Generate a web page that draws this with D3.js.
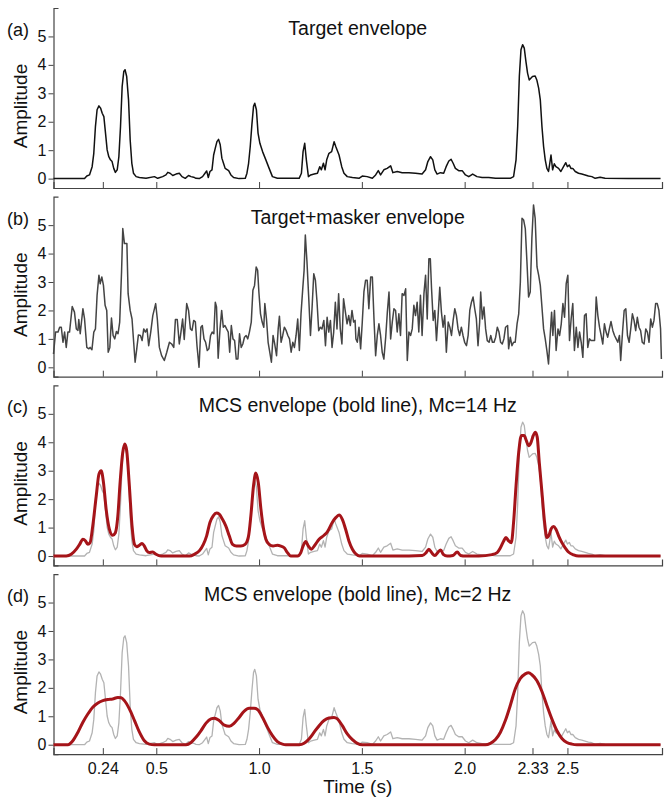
<!DOCTYPE html>
<html>
<head>
<meta charset="utf-8">
<script src="https://cdn.jsdelivr.net/npm/d3@7"></script>
<style>
  body { margin: 0; background: #fff; }
  text { font-family: "Liberation Sans", Arial, Helvetica, sans-serif; }
</style>
</head>
<body>
<script>
// ---- data (time in s, amplitude) ----

// (a) target envelope, also the grey trace in (c) and (d)
var targetTime = [0.000,0.151,0.162,0.175,0.188,0.196,0.204,0.212,0.221,0.229,0.237,0.245,0.253,0.261,0.269,0.277,0.285,0.293,0.301,0.310,0.318,0.326,0.334,0.342,0.348,0.356,0.365,0.373,0.381,0.389,0.402,0.418,0.450,0.491,0.507,0.531,0.547,0.556,0.567,0.580,0.596,0.612,0.625,0.641,0.657,0.669,0.682,0.693,0.709,0.725,0.737,0.745,0.753,0.761,0.771,0.779,0.787,0.795,0.803,0.811,0.819,0.827,0.835,0.852,0.863,0.876,0.903,0.933,0.941,0.949,0.957,0.965,0.973,0.979,0.987,0.995,1.004,1.017,1.033,1.049,1.065,1.089,1.146,1.195,1.206,1.214,1.222,1.230,1.240,1.251,1.268,1.284,1.295,1.303,1.313,1.321,1.329,
  1.340,1.353,1.365,1.373,1.389,1.402,1.413,1.429,1.454,1.486,1.502,1.526,1.551,1.567,1.580,1.591,1.607,1.623,1.640,1.651,1.672,1.696,1.729,1.761,1.793,1.810,1.821,1.834,1.845,1.855,1.866,1.882,1.898,1.910,1.923,1.934,1.944,1.955,1.971,1.988,2.004,2.020,2.039,2.060,2.085,2.117,2.150,2.182,2.222,2.238,2.250,2.258,2.266,2.274,2.282,2.290,2.298,2.306,2.314,2.322,2.330,2.343,2.351,2.360,2.368,2.376,2.384,2.392,2.400,2.408,2.413,2.420,2.428,2.436,2.444,2.457,2.468,2.481,2.492,2.500,2.509,2.517,2.526,2.538,2.554,2.570,2.586,2.602,2.619,2.635,2.659,2.683,2.796,2.953];
var targetAmp = [0,0,0.09,0.13,0.42,0.89,1.83,2.42,2.56,2.48,2.30,2.18,1.60,1.01,0.77,0.66,0.60,0.36,0.22,0.31,0.77,1.83,3.24,3.77,3.83,3.59,2.77,1.36,0.54,0.19,0.07,0.04,0.01,0.07,0.01,0.07,0.13,0.22,0.19,0.11,0.16,0.19,0.07,0.01,0.11,0.07,0.05,0.01,0,0.07,0.19,0.27,0.04,0.25,0.31,0.83,1.07,1.30,1.38,1.19,0.72,0.54,0.36,0.28,0.13,0.04,0,0.01,0.19,0.54,1.13,1.89,2.54,2.65,2.42,1.60,1.24,0.95,0.66,0.36,0.07,0.01,0.01,0.01,0.19,0.95,1.24,0.66,0.07,0.13,0.16,0.19,0.42,0.31,0.54,0.31,0.66,
  0.89,0.95,1.30,1.13,0.83,0.42,0.19,0.07,0.04,0.01,0.09,0.07,0.01,0.13,0.28,0.13,0.31,0.36,0.45,0.21,0.25,0.21,0.21,0.19,0.16,0.31,0.60,0.77,0.66,0.31,0.16,0.21,0.19,0.42,0.62,0.68,0.54,0.36,0.28,0.28,0.13,0.07,0.16,0.07,0.04,0.04,0.01,0.01,0.01,0.07,0.66,1.83,3.59,4.53,4.71,4.59,4.12,3.71,3.47,3.53,3.59,3.61,3.47,3.18,2.77,1.83,1.13,0.66,0.36,0.25,0.48,0.83,0.31,0.52,0.42,0.36,0.25,0.42,0.56,0.42,0.48,0.36,0.36,0.25,0.19,0.16,0.13,0.09,0.07,0.01,0.05,0.01,0,0];

// (b) target + masker envelope
var mixTime = [0.000,0.010,0.022,0.030,0.038,0.046,0.054,0.062,0.070,0.078,0.091,0.102,0.111,0.119,0.123,0.130,0.143,0.151,0.162,0.172,0.178,0.187,0.196,0.204,0.212,0.221,0.227,0.235,0.243,0.251,0.259,0.266,0.274,0.282,0.290,0.298,0.306,0.314,0.322,0.331,0.337,0.345,0.357,0.363,0.373,0.382,0.390,0.397,0.405,0.413,0.423,0.431,0.439,0.447,0.455,0.463,0.473,0.483,0.497,0.505,0.515,0.526,0.539,0.551,0.564,0.575,0.585,0.593,0.602,0.612,0.620,0.628,0.636,0.648,0.657,0.666,0.674,0.682,0.690,0.698,0.708,0.717,
  0.724,0.732,0.740,0.748,0.756,0.764,0.772,0.780,0.787,0.793,0.801,0.810,0.818,0.826,0.834,0.842,0.850,0.857,0.865,0.873,0.881,0.889,0.897,0.905,0.913,0.921,0.929,0.937,0.945,0.953,0.962,0.970,0.978,0.986,0.993,0.999,1.007,1.015,1.023,1.028,1.036,1.044,1.052,1.060,1.068,1.076,1.085,1.093,1.099,1.107,1.115,1.123,1.132,1.140,1.148,1.156,1.164,1.172,1.180,1.188,1.196,1.204,1.213,1.219,1.225,1.233,1.241,1.250,1.258,1.266,1.274,1.282,1.290,1.298,1.306,1.315,1.323,1.331,1.339,1.347,1.355,1.363,1.371,1.379,1.387,1.395,1.403,1.411,1.420,1.428,1.436,1.444,1.452,1.460,
  1.467,1.471,1.478,1.486,1.494,1.502,1.510,1.518,1.526,1.534,1.543,1.551,1.559,1.567,1.575,1.583,1.591,1.599,1.607,1.616,1.624,1.632,1.640,1.648,1.656,1.664,1.672,1.680,1.688,1.696,1.705,1.713,1.721,1.729,1.737,1.745,1.753,1.761,1.769,1.777,1.785,1.793,1.802,1.810,1.818,1.826,1.833,1.839,1.847,1.855,1.863,1.871,1.879,1.887,1.895,1.903,1.911,1.920,1.928,1.936,1.944,1.952,1.960,1.968,1.976,1.984,1.992,2.000,2.009,2.017,2.025,2.033,2.041,2.049,2.057,2.065,2.073,2.078,2.086,2.094,2.102,2.110,2.119,2.127,2.135,2.143,2.151,2.159,2.167,2.175,2.183,2.191,2.199,
  2.209,2.214,2.222,2.230,2.238,2.246,2.255,2.263,2.271,2.279,2.287,2.295,2.303,2.311,2.319,2.327,2.335,2.343,2.352,2.360,2.368,2.376,2.384,2.392,2.400,2.408,2.416,2.423,2.429,2.437,2.445,2.454,2.462,2.470,2.478,2.486,2.494,2.502,2.510,2.518,2.526,2.534,2.543,2.551,2.559,2.567,2.575,2.583,2.591,2.599,2.607,2.615,2.624,2.632,2.640,2.648,2.656,2.664,2.672,2.680,2.688,2.696,2.704,2.712,2.721,2.729,2.737,2.745,2.753,2.759,2.768,2.776,2.784,2.792,2.800,2.808,2.816,2.824,2.832,2.840,2.848,2.856,2.864,2.873,2.881,2.889,2.897,2.905,2.913,2.921,2.929,2.937,2.945,2.953,2.957];
var mixAmp = [0.47,1.24,1.24,1.41,1.41,0.88,1.24,0.70,1.24,1.24,2.14,1.94,1.35,1.30,1.68,1.18,2.06,1.70,0.70,0.65,0.70,0.62,1.24,1.35,2.53,3.24,2.94,3.18,2.88,2.18,2.00,0.53,0.70,1.73,1.12,1.00,1.26,1.18,1.59,3.35,4.88,4.35,4.35,2.59,2.00,1.70,0.88,0.18,0.65,1.14,1.12,0.94,1.35,1.24,1.35,0.76,1.24,1.82,2.24,1.70,0.70,0.41,0.24,0.53,0.88,0.82,0.70,1.68,1.68,0.82,1.24,1.70,0.98,2.24,2.00,1.35,1.30,1.65,1.60,0.76,0.00,1.41,
  1.47,1.00,0.88,0.59,0.65,1.12,1.24,1.18,2.29,2.12,0.32,1.35,2.00,1.41,1.47,1.35,1.24,0.53,1.47,1.00,0.94,0.29,0.29,1.18,0.70,0.82,1.06,1.12,1.00,1.24,1.59,2.71,2.88,3.53,3.41,2.65,1.88,1.59,1.41,2.24,1.70,0.88,0.53,0.18,1.12,0.82,0.41,1.35,1.80,0.88,1.12,1.41,1.29,1.12,1.00,0.53,0.88,0.70,1.12,1.70,0.59,1.88,2.82,3.41,4.65,3.71,2.53,1.12,2.12,3.29,3.06,2.29,1.29,1.41,1.35,1.65,0.76,1.76,1.24,1.65,0.70,1.24,2.29,1.35,2.59,1.35,0.82,2.41,1.94,1.53,1.82,1.47,2.00,1.59,
  1.65,1.00,0.88,1.41,0.65,1.59,2.65,3.06,3.06,2.06,3.18,3.18,1.70,0.41,1.12,1.53,1.12,0.53,0.29,1.06,1.94,2.65,1.00,1.59,2.06,2.00,1.24,1.88,1.12,2.59,2.53,2.76,0.24,1.24,1.12,1.35,2.18,1.82,2.29,1.24,2.53,1.12,2.59,3.24,1.70,3.82,3.82,2.76,1.65,2.00,0.94,1.82,2.82,1.94,1.41,1.82,0.53,1.59,1.41,1.12,1.65,2.06,1.82,1.35,1.12,1.41,1.12,0.88,0.76,1.12,2.00,2.29,2.47,2.06,1.70,0.76,1.59,2.65,1.70,2.12,1.35,0.94,0.88,1.12,0.88,0.88,1.06,1.41,1.24,0.88,0.82,1.00,1.41,
  1.47,0.65,1.06,0.76,0.88,0.88,1.53,1.88,3.00,5.24,5.18,4.88,3.71,2.47,2.65,4.53,5.71,5.24,3.53,3.24,2.88,2.12,1.35,1.00,0.59,0.12,1.12,1.94,1.12,2.00,0.59,1.35,1.12,1.53,2.24,1.76,2.94,3.24,0.94,1.70,2.24,0.59,1.41,0.70,1.24,0.88,0.35,1.82,1.88,0.70,1.00,0.94,0.94,0.94,2.47,1.82,1.41,1.12,0.82,1.53,1.24,1.06,1.35,1.61,1.29,1.12,1.00,0.88,1.12,0.24,1.24,2.00,2.06,1.12,0.88,1.35,1.88,1.65,1.29,1.76,1.41,1.29,0.88,0.82,1.35,1.24,0.88,1.70,1.41,1.65,2.24,2.24,2.00,1.35,0.29];

// (c) MCS envelope, Mc = 14 Hz
var mc14Time = [0,0.062,0.086,0.111,0.127,0.143,0.156,0.167,0.178,0.191,0.208,0.221,0.232,0.243,0.256,0.272,0.288,0.301,0.313,0.324,0.337,0.347,0.356,0.369,0.382,0.394,0.405,0.418,0.431,0.442,0.454,0.466,0.483,0.499,0.523,0.661,0.685,0.709,0.729,0.745,0.761,0.777,0.793,0.806,0.822,0.838,0.855,0.871,0.890,0.911,0.932,0.949,0.960,0.973,0.984,0.996,1.009,1.022,1.033,1.049,1.068,1.089,1.106,1.122,1.138,1.154,1.187,1.203,1.214,1.227,1.240,1.254,1.271,1.292,1.316,1.332,1.356,1.373,1.389,1.405,1.421,1.437,1.454,1.470,1.489,1.583,1.664,1.794,1.813,1.826,1.839,1.855,1.871,1.883,1.896,1.915,1.943,1.964,1.980,2.004,2.069,2.133,2.158,2.174,2.190,2.201,2.214,2.227,2.238,2.250,2.263,2.276,2.289,2.300,2.311,2.323,2.334,2.344,2.353,2.363,2.376,2.389,2.400,2.412,2.421,2.433,2.444,2.457,2.473,2.489,2.505,2.530,2.554,2.953];
var mc14Amp = [0,0,0.06,0.24,0.41,0.59,0.53,0.41,0.47,1.06,2.12,2.88,3.00,2.59,1.65,0.94,0.73,0.82,1.41,2.59,3.65,3.94,3.71,2.47,1.06,0.41,0.33,0.38,0.44,0.35,0.18,0.12,0.14,0.06,0,0,0.06,0.18,0.41,0.71,1.18,1.41,1.51,1.47,1.29,1.06,0.71,0.41,0.35,0.35,0.41,0.71,1.41,2.47,2.92,2.59,1.65,0.94,0.59,0.41,0.35,0.38,0.35,0.29,0.12,0,0,0.12,0.35,0.51,0.35,0.24,0.38,0.59,0.73,0.85,1.18,1.35,1.44,1.29,0.94,0.53,0.24,0.08,0,0,0,0.02,0.12,0.24,0.12,0.02,0.14,0.21,0.06,0,0.02,0.14,0.02,0,0,0.05,0.12,0.29,0.53,0.65,0.53,0.47,1.18,2.47,3.65,4.24,4.24,4.06,3.88,4.00,4.24,4.35,4.18,3.29,2.24,1.18,0.65,0.76,0.96,1.04,0.94,0.71,0.47,0.29,0.14,0.04,0,0];

// (d) MCS envelope, Mc = 2 Hz
var mc2Time = [0,0.070,0.094,0.119,0.143,0.167,0.191,0.216,0.240,0.264,0.288,0.313,0.329,0.345,0.369,0.394,0.418,0.442,0.466,0.491,0.645,0.669,0.693,0.717,0.742,0.766,0.782,0.806,0.831,0.855,0.879,0.903,0.928,0.952,0.976,0.992,1.017,1.041,1.065,1.089,1.114,1.130,1.195,1.219,1.243,1.268,1.292,1.316,1.340,1.364,1.381,1.405,1.429,1.454,1.478,1.502,2.101,2.125,2.150,2.174,2.198,2.222,2.246,2.270,2.295,2.311,2.327,2.351,2.376,2.400,2.424,2.449,2.473,2.497,2.522,2.546,2.953];
var mc2Amp = [0,0,0.14,0.44,0.79,1.08,1.32,1.47,1.55,1.59,1.61,1.66,1.65,1.55,1.26,0.85,0.44,0.14,0.02,0,0,0.08,0.26,0.49,0.76,0.91,0.93,0.85,0.69,0.65,0.76,0.96,1.18,1.28,1.28,1.24,0.96,0.61,0.32,0.11,0.02,0,0,0.05,0.20,0.44,0.67,0.85,0.94,0.96,0.91,0.67,0.38,0.18,0.05,0,0,0.05,0.18,0.44,0.85,1.38,1.96,2.32,2.49,2.53,2.46,2.26,1.87,1.38,0.91,0.49,0.22,0.08,0.02,0,0];

var timeTicks = [0.24, 0.5, 1.0, 1.5, 2.0, 2.33, 2.5];
var timeTickLabels = ["0.24", "0.5", "1.0", "1.5", "2.0", "2.33", "2.5"];
var ampTicks = [0, 1, 2, 3, 4, 5];
var ampTickLabels = ["0", "1", "2", "3", "4", "5"];

var panelLetters = ["(a)", "(b)", "(c)", "(d)"];
var panelTitles = ["Target envelope", "Target+masker envelope",
    "MCS envelope (bold line), Mc=14 Hz", "MCS envelope (bold line), Mc=2 Hz"];

// ---- layout ----
var w = 667, h = 798;
var left = 53.5, right = 662;
var panelH = 180;      // from top of y axis down to the time axis line
var panelStep = 188.7;
var firstTop = 8;

function zip(ts, vs) {
    var out = [];
    for (var i = 0; i < ts.length; i++) out.push({t: ts[i], v: vs[i]});
    return out;
}

var target = zip(targetTime, targetAmp);
var mix = zip(mixTime, mixAmp);
var mc14 = zip(mc14Time, mc14Amp);
var mc2 = zip(mc2Time, mc2Amp);

var svg = d3.select("body")
    .append("svg")
    .attr("width", w)
    .attr("height", h);

var xScale = d3.scaleLinear().domain([0, 2.96]).range([left, right]);
var yScale = d3.scaleLinear().domain([-0.33, 6.0]).range([panelH, 0]);

var rawLine = d3.line()
    .x(function(d) { return xScale(d.t); })
    .y(function(d) { return yScale(d.v); });

var smoothLine = d3.line()
    .curve(d3.curveMonotoneX)
    .x(function(d) { return xScale(d.t); })
    .y(function(d) { return yScale(d.v); });

// what goes in each panel: [data, line generator, colour, width]
var panelSeries = [
    [[target, rawLine, "#111", 1.5]],
    [[mix, rawLine, "#444", 1.5]],
    [[target, rawLine, "#b3b3b3", 1.3], [mc14, smoothLine, "#a51419", 3]],
    [[target, rawLine, "#b3b3b3", 1.3], [mc2, smoothLine, "#a51419", 3]]
];

panelSeries.forEach(function(series, i) {
    var top = firstTop + i * panelStep;
    var g = svg.append("g").attr("transform", "translate(0," + top + ")");

    // amplitude axis, small inward stub at its top end
    var yAxis = g.append("g")
        .attr("transform", "translate(" + left + ",0)")
        .attr("color", "#444")
        .call(d3.axisLeft(yScale)
            .tickValues(ampTicks)
            .tickSizeInner(5)
            .tickSizeOuter(-5)
            .tickPadding(2)
            .tickFormat(function(d, k) { return ampTickLabels[k]; }));
    yAxis.selectAll("text")
        .attr("font-size", "16px")
        .attr("fill", "#111")
        .style("font-family", "'Liberation Sans', Arial, sans-serif");

    // time axis, ticks pointing up; labels only on the last panel
    var xAxis = g.append("g")
        .attr("transform", "translate(0," + panelH + ")")
        .attr("color", "#444")
        .call(d3.axisBottom(xScale)
            .tickValues(timeTicks)
            .tickSizeInner(-6)
            .tickSizeOuter(-6)
            .tickPadding(9)
            .tickFormat(function(d, k) { return i === 3 ? timeTickLabels[k] : ""; }));
    xAxis.selectAll("text")
        .attr("font-size", "16px")
        .attr("fill", "#111")
        .style("font-family", "'Liberation Sans', Arial, sans-serif");
    g.selectAll(".domain").attr("stroke-width", 1.2);

    series.forEach(function(s) {
        g.append("path")
            .datum(s[0])
            .attr("fill", "none")
            .attr("stroke", s[2])
            .attr("stroke-width", s[3])
            .attr("stroke-linejoin", "round")
            .attr("d", s[1]);
    });

    g.append("text")
        .attr("x", (left + right) / 2)
        .attr("y", 27)
        .attr("text-anchor", "middle")
        .attr("font-size", "19.5px")
        .attr("fill", "#111")
        .text(panelTitles[i]);

    g.append("text")
        .attr("x", 7)
        .attr("y", 28)
        .attr("font-size", "18px")
        .attr("fill", "#111")
        .text(panelLetters[i]);

    g.append("text")
        .attr("transform", "translate(27," + 98 + ") rotate(-90)")
        .attr("text-anchor", "middle")
        .attr("font-size", "19px")
        .attr("fill", "#111")
        .text("Amplitude");
});

svg.append("text")
    .attr("x", (left + right) / 2)
    .attr("y", 793)
    .attr("text-anchor", "middle")
    .attr("font-size", "19px")
    .attr("fill", "#111")
    .text("Time (s)");
</script>
</body>
</html>
